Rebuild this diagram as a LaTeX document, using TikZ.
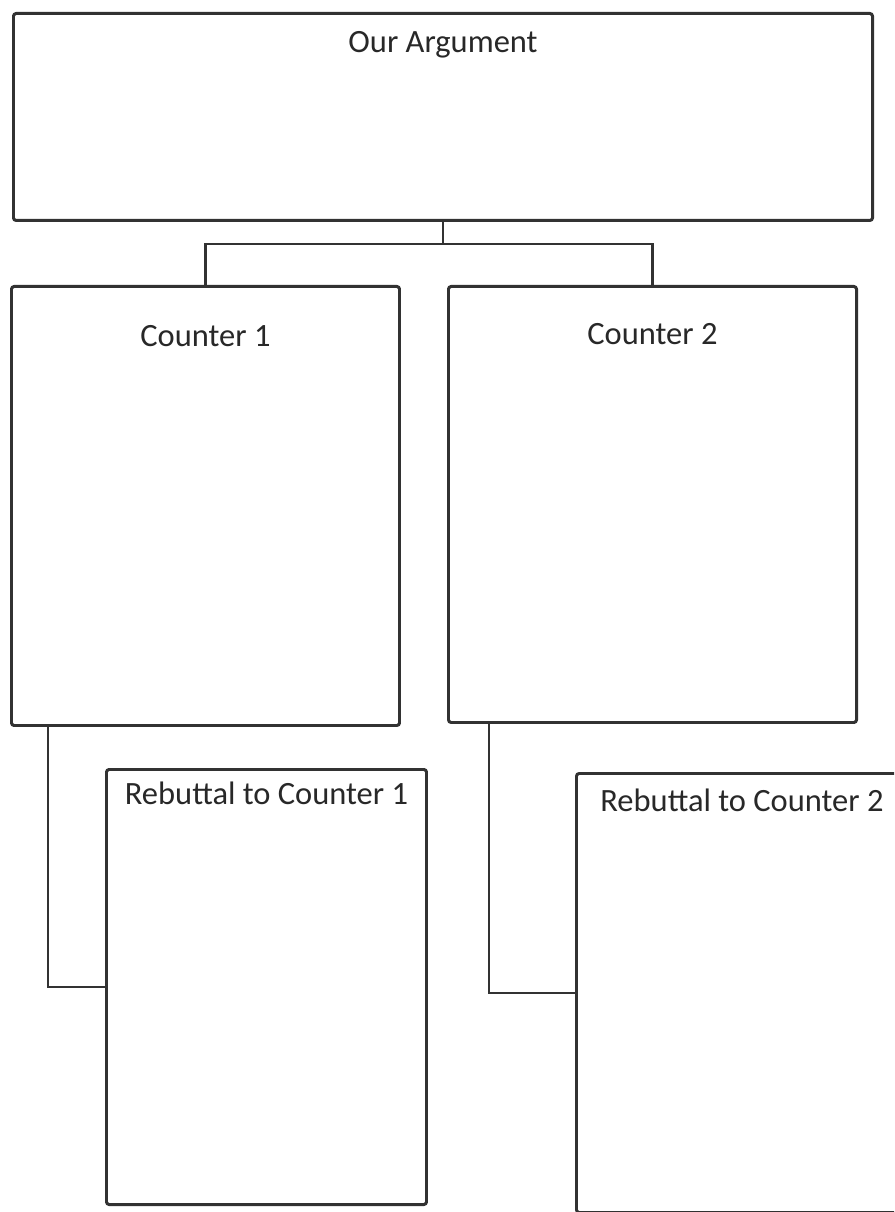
\documentclass[tikz,border=0pt]{standalone}
\usepackage{fontspec}
\setmainfont{Carlito}
\usetikzlibrary{calc,positioning}
\definecolor{boxline}{RGB}{50,50,50}
\definecolor{boxtext}{RGB}{40,40,40}
\tikzset{
   box node/.style={rectangle,draw=boxline,line width=1.7pt,rounded corners=1.5pt,
                    inner sep=0pt,anchor=north west,fill=white},
   box text/.style={text=boxtext,font=\fontsize{18.5}{22}\selectfont,anchor=center},
   link/.style={draw=boxline,line width=1.3pt}
}
\begin{document}
\begin{tikzpicture}[x=0.02cm,y=-0.02cm]
\useasboundingbox (0,0) rectangle (894,1212);
\clip (0,0) rectangle (894,1212);
\node[box node,minimum width=859*0.02cm,minimum height=207*0.02cm] (arg) at (12,12)  {};
\node[box node,minimum width=388*0.02cm,minimum height=439*0.02cm] (c1)  at (10,285) {};
\node[box node,minimum width=408*0.02cm,minimum height=436*0.02cm] (c2)  at (447,285) {};
\node[box node,minimum width=320*0.02cm,minimum height=435*0.02cm] (r1)  at (105,768) {};
\node[box node,minimum width=335*0.02cm,minimum height=439*0.02cm] (r2)  at (575,772) {};
%
\node[box text] (arg text) at ($ (arg.north) + (0,33) $) {Our Argument};
\node[box text] (c1 text)  at ($ (c1.north)  + (0,51) $) {Counter 1};
\node[box text] (c2 text)  at ($ (c2.north)  + (0,49) $) {Counter 2};
\node[box text] (r1 text)  at ($ (r1.north)  + (0,25) $) {Rebuttal to Counter 1};
\node[box text] (r2 text)  at ($ (r2.north)  + (-2,28) $) {Rebuttal to Counter 2};
%
\coordinate (split) at ($ (arg.south) + (0,22) $);
\path[link]
  (arg.south) -- (split)
  (split) -| (c1.north)
  (split) -| (c2.north)
  ($ (c1.south west) + (38,0) $) |- (r1.west)
  ($ (c2.south west) + (42,0) $) |- (r2.west)
  ;
\end{tikzpicture}
\end{document}
